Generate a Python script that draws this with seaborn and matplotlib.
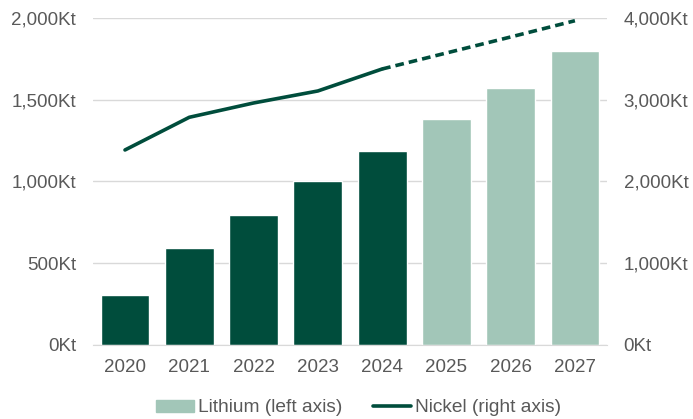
import numpy as np
import pandas as pd
import matplotlib.pyplot as plt
import seaborn as sns
from matplotlib.patches import Patch
from matplotlib.lines import Line2D
from matplotlib.ticker import FuncFormatter, FixedLocator

years = ["2020", "2021", "2022", "2023", "2024", "2025", "2026", "2027"]
lithium = [305, 590, 795, 1000, 1185, 1380, 1570, 1800]
nickel = [2385, 2785, 2960, 3107, 3376, 3572, 3768, 3967]
n_actual = 5  # 2020-2024 actual, rest forecast

dark = "#004D3C"
light = "#A2C6B8"
grey_txt = "#595959"
grid_c = "#D9D9D9"

sns.set_style("white")
plt.rcParams["font.family"] = ["Liberation Sans", "DejaVu Sans"]

df = pd.DataFrame({"year": years, "lithium": lithium, "nickel": nickel})
df["pos"] = np.arange(len(years))
bar_colors = [dark] * n_actual + [light] * (len(years) - n_actual)

fig = plt.figure(figsize=(6.93, 4.19), dpi=100)
ax = fig.add_axes([0.134, 0.177, 0.742, 0.780])

sns.barplot(data=df, x="year", y="lithium", hue="year", palette=bar_colors,
            legend=False, width=0.76, saturation=1, ax=ax, zorder=2)
ax.set_ylim(0, 2000)
ax.set_xlim(-0.5, len(years) - 0.5)
ax.set_yticks([0, 500, 1000, 1500, 2000])
ax.yaxis.set_major_formatter(FuncFormatter(lambda v, p: f"{v:,.0f}Kt"))
ax.grid(axis="y", color=grid_c, lw=1, zorder=0)
ax.set_axisbelow(True)
ax.set_xlabel("")
ax.set_ylabel("")
for s in ["top", "right", "left"]:
    ax.spines[s].set_visible(False)
ax.spines["bottom"].set_color(grid_c)
ax.tick_params(axis="y", length=0, pad=12, labelsize=13.5, labelcolor=grey_txt)
ax.tick_params(axis="x", which="major", length=0, pad=10, labelsize=13.5, labelcolor=grey_txt)
ax.xaxis.set_minor_locator(FixedLocator(np.arange(-0.5, len(years), 1)))
ax.tick_params(axis="x", which="minor", length=5, color=grid_c, width=1)

ax2 = ax.twinx()
ax2.set_position(ax.get_position())
act = df.iloc[:n_actual]
fc = df.iloc[n_actual - 1:]
sns.lineplot(data=act, x="pos", y="nickel", color=dark, lw=2.6, ax=ax2)
sns.lineplot(data=fc, x="pos", y="nickel", color=dark, lw=2.6, ax=ax2,
             linestyle=(0, (2.4, 1.4)))
ax2.set_ylim(0, 4000)
ax2.set_xlim(-0.5, len(years) - 0.5)
ax2.set_yticks([0, 1000, 2000, 3000, 4000])
ax2.yaxis.set_major_formatter(FuncFormatter(lambda v, p: f"{v:,.0f}Kt"))
ax2.set_ylabel("")
for s in ["top", "right", "left", "bottom"]:
    ax2.spines[s].set_visible(False)
ax2.tick_params(axis="y", length=0, pad=12, labelsize=13.5, labelcolor=grey_txt)

handles = [Patch(color=light, label="Lithium (left axis)"),
           Line2D([0], [0], color=dark, lw=2.6, label="Nickel (right axis)")]
fig.legend(handles=handles, loc="lower center", bbox_to_anchor=(0.517, -0.035),
           ncol=2, frameon=False, fontsize=13.8, labelcolor=grey_txt,
           handlelength=2.0, handleheight=0.6, handletextpad=0.2,
           columnspacing=1.6)

fig.savefig("out.png", dpi=100)
